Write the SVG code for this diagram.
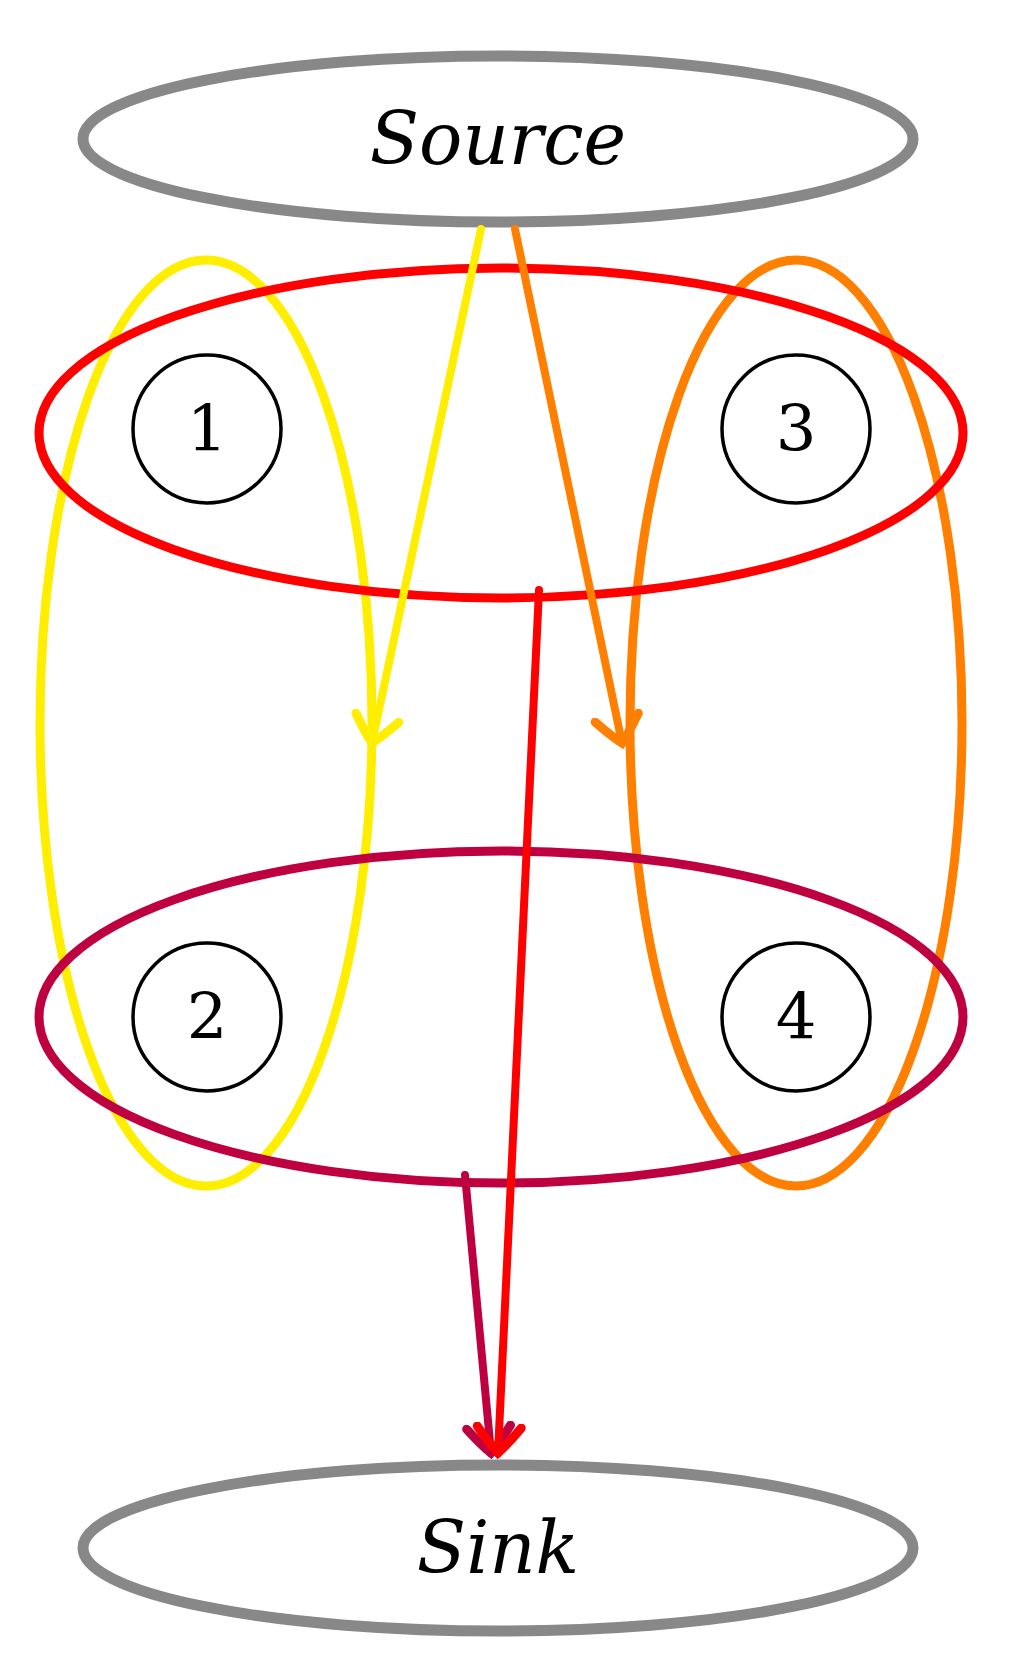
<svg xmlns="http://www.w3.org/2000/svg" width="1021" height="1678" viewBox="0 0 1021 1678">
<style>
.t{stroke:#888;stroke-width:11;fill:none}
.n{stroke:#000;stroke-width:3.5;fill:none}
.g{fill:none;stroke-width:9}
.lbl{font-family:"DejaVu Serif","Liberation Serif",serif;font-size:64px;text-anchor:middle;dominant-baseline:central}
.it{font-family:"DejaVu Serif","Liberation Serif",serif;font-style:italic;font-size:72px;text-anchor:middle;dominant-baseline:central}
.e{fill:none;stroke-width:8;stroke-linecap:round}
</style>
<defs>
<marker id="ay" viewBox="-30 -30 40 60" markerWidth="40" markerHeight="60" refX="0" refY="0" orient="auto" markerUnits="userSpaceOnUse"><path d="M-26,-22 Q-10,-10 0,0 Q-10,10 -26,22" fill="none" stroke="#ffee00" stroke-width="9" stroke-linecap="round"/></marker>
<marker id="ao" viewBox="-30 -30 40 60" markerWidth="40" markerHeight="60" refX="0" refY="0" orient="auto" markerUnits="userSpaceOnUse"><path d="M-26,-22 Q-10,-10 0,0 Q-10,10 -26,22" fill="none" stroke="#ff8000" stroke-width="9" stroke-linecap="round"/></marker>
<marker id="ar" viewBox="-30 -30 40 60" markerWidth="40" markerHeight="60" refX="0" refY="0" orient="auto" markerUnits="userSpaceOnUse"><path d="M-26,-22 Q-10,-10 0,0 Q-10,10 -26,22" fill="none" stroke="#ff0000" stroke-width="9" stroke-linecap="round"/></marker>
<marker id="ap" viewBox="-30 -30 40 60" markerWidth="40" markerHeight="60" refX="0" refY="0" orient="auto" markerUnits="userSpaceOnUse"><path d="M-26,-22 Q-10,-10 0,0 Q-10,10 -26,22" fill="none" stroke="#bf0040" stroke-width="9" stroke-linecap="round"/></marker>
</defs>
<g id="groups">
<ellipse cx="206" cy="723" rx="166" ry="463" class="g" stroke="#ffee00"/>
<ellipse cx="796" cy="723" rx="166" ry="463" class="g" stroke="#ff8000"/>
<ellipse cx="501" cy="433" rx="462" ry="165" class="g" stroke="#ff0000"/>
<ellipse cx="501" cy="1017" rx="462" ry="166" class="g" stroke="#bf0040"/>
</g>
<g id="source"><ellipse cx="498" cy="139" rx="415" ry="83" class="t"/><text x="498" y="139" class="it">Source</text></g>
<g id="sink"><ellipse cx="498" cy="1548" rx="415" ry="83" class="t"/><text x="498" y="1548" class="it">Sink</text></g>
<g id="n1"><circle cx="207" cy="429" r="74" class="n"/><text x="207" y="429" class="lbl">1</text></g>
<g id="n3"><circle cx="796" cy="429" r="74" class="n"/><text x="796" y="429" class="lbl">3</text></g>
<g id="n2"><circle cx="207" cy="1017" r="74" class="n"/><text x="207" y="1017" class="lbl">2</text></g>
<g id="n4"><circle cx="796" cy="1017" r="74" class="n"/><text x="796" y="1017" class="lbl">4</text></g>
<g id="connectors">
<line x1="481" y1="229" x2="372" y2="743" class="e" stroke="#ffee00" marker-end="url(#ay)"/>
<line x1="515" y1="229" x2="622" y2="743" class="e" stroke="#ff8000" marker-end="url(#ao)"/>
<line x1="465" y1="1175" x2="491" y2="1453" class="e" stroke="#bf0040" marker-end="url(#ap)"/>
<line x1="539" y1="590" x2="498" y2="1453" class="e" stroke="#ff0000" marker-end="url(#ar)"/>
</g>
</svg>
